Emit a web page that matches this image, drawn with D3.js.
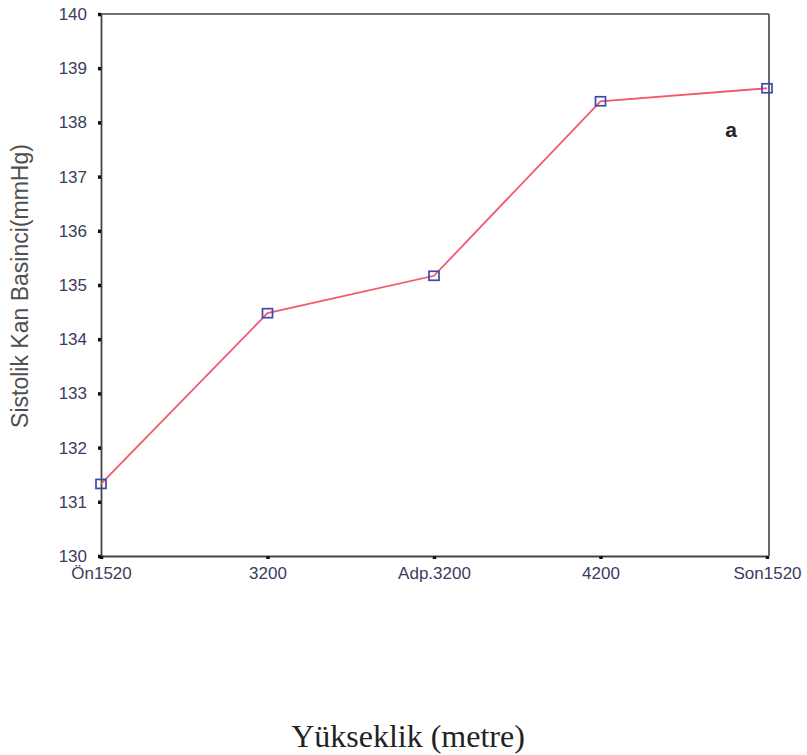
<!DOCTYPE html>
<html>
<head>
<meta charset="utf-8">
<script src="https://cdn.jsdelivr.net/npm/d3@7"></script>
<style>
  body { margin: 0; background: #fff; }
  svg { display: block; }
</style>
</head>
<body>
<script>
// Systolic blood pressure by altitude stage
const categories = ["Ön1520", "3200", "Adp.3200", "4200", "Son1520"];
const values = [131.33, 134.48, 135.17, 138.39, 138.63];
const yTicks = [130, 131, 132, 133, 134, 135, 136, 137, 138, 139, 140];

const W = 807, H = 755;
const plotLeft = 101, plotRight = 767, plotTop = 14, plotBottom = 556;
const sans = "'Liberation Sans', Arial, sans-serif";
const serif = "'Liberation Serif', 'Times New Roman', serif";

const svg = d3.select("body").append("svg").attr("width", W).attr("height", H);

const x = d3.scalePoint().domain(categories).range([plotLeft, plotRight]).padding(0);
const y = d3.scaleLinear().domain([130, 140]).range([plotBottom, plotTop]);

// frame: top and right borders
svg.append("line").attr("x1", plotLeft).attr("x2", plotRight + 2).attr("y1", plotTop).attr("y2", plotTop)
  .attr("stroke", "#444").attr("stroke-width", 1.6);
svg.append("line").attr("x1", plotRight + 2).attr("x2", plotRight + 2).attr("y1", plotTop).attr("y2", plotBottom)
  .attr("stroke", "#444").attr("stroke-width", 1.6);

// y axis
const yAxis = svg.append("g").attr("transform", `translate(${plotLeft},0)`)
  .call(d3.axisLeft(y).tickValues(yTicks).tickSize(3).tickPadding(11).tickFormat(d3.format("d")));
yAxis.select(".domain").attr("stroke", "#444").attr("stroke-width", 1.8);
yAxis.selectAll(".tick line").attr("stroke", "#111").attr("stroke-width", 3.5);
yAxis.selectAll(".tick text").attr("font-family", sans)
  .attr("font-size", 17).attr("fill", "#3c3c5e");

// x axis
const xAxis = svg.append("g").attr("transform", `translate(0,${plotBottom})`)
  .call(d3.axisBottom(x).tickSize(3).tickPadding(8));
xAxis.select(".domain").attr("stroke", "#444").attr("stroke-width", 1.8);
xAxis.selectAll(".tick line").attr("stroke", "#111").attr("stroke-width", 3.5);
xAxis.selectAll(".tick text").attr("font-family", sans)
  .attr("font-size", 17).attr("fill", "#3c3c5e");

// series line
const line = d3.line().x((d, i) => x(categories[i])).y(d => y(d));
svg.append("path").datum(values).attr("d", line)
  .attr("fill", "none").attr("stroke", "#f05a6a").attr("stroke-width", 1.8);

// markers
svg.selectAll("rect.pt").data(values).enter().append("rect").attr("class", "pt")
  .attr("x", (d, i) => x(categories[i]) - 5).attr("y", d => y(d) - 4.5)
  .attr("width", 10).attr("height", 9)
  .attr("fill", "none").attr("stroke", "#4048b0").attr("stroke-width", 1.7);

// panel letter
svg.append("text").attr("x", 731).attr("y", 137).attr("text-anchor", "middle")
  .attr("font-family", sans).attr("font-size", 21)
  .attr("font-weight", "bold").attr("fill", "#222").text("a");

// y title
svg.append("text").attr("transform", "translate(28,286) rotate(-90)")
  .attr("text-anchor", "middle").attr("font-family", sans)
  .attr("font-size", 23).attr("fill", "#505050").text("Sistolik Kan Basinci(mmHg)");

// x title
svg.append("text").attr("x", 408).attr("y", 747).attr("text-anchor", "middle")
  .attr("font-family", serif)
  .attr("font-size", 32).attr("fill", "#222").text("Yükseklik (metre)");
</script>
</body>
</html>
